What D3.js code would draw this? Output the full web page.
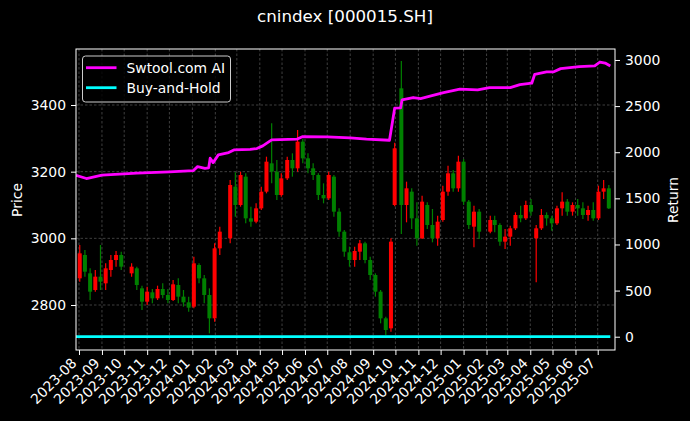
<!DOCTYPE html>
<html><head><meta charset="utf-8">
<script src="https://cdn.jsdelivr.net/npm/d3@7"></script>
<style>body{margin:0;background:#000}</style>
</head><body>
<svg id="c" width="690" height="421"></svg>
<script>
// ---------- data ----------
const candleDates = ["2023-08-02","2023-08-09","2023-08-16","2023-08-23","2023-08-30","2023-09-06","2023-09-13","2023-09-20","2023-09-27","2023-10-11","2023-10-18","2023-10-25","2023-11-01","2023-11-08","2023-11-15","2023-11-22","2023-11-29","2023-12-06","2023-12-13","2023-12-20","2023-12-27","2024-01-03","2024-01-10","2024-01-17","2024-01-24","2024-01-31","2024-02-07","2024-02-21","2024-02-28","2024-03-06","2024-03-13","2024-03-20","2024-03-27","2024-04-03","2024-04-10","2024-04-17","2024-04-24","2024-04-30","2024-05-08","2024-05-15","2024-05-22","2024-05-29","2024-06-05","2024-06-12","2024-06-19","2024-06-26","2024-07-03","2024-07-10","2024-07-17","2024-07-24","2024-07-31","2024-08-07","2024-08-14","2024-08-21","2024-08-28","2024-09-04","2024-09-11","2024-09-18","2024-09-25","2024-09-30","2024-10-09","2024-10-16","2024-10-23","2024-10-30","2024-11-06","2024-11-13","2024-11-20","2024-11-27","2024-12-04","2024-12-11","2024-12-18","2024-12-25","2025-01-01","2025-01-08","2025-01-15","2025-01-22","2025-02-06","2025-02-12","2025-02-19","2025-02-26","2025-03-05","2025-03-12","2025-03-19","2025-03-26","2025-04-02","2025-04-09","2025-04-16","2025-04-23","2025-04-30","2025-05-07","2025-05-14","2025-05-21","2025-05-28","2025-06-04","2025-06-11","2025-06-18","2025-06-25","2025-07-02","2025-07-09","2025-07-16"];
const openP  = [2880,2950,2895,2845,2885,2865,2905,2935,2950,2895,2910,2850,2810,2838,2820,2848,2830,2815,2860,2825,2808,2795,2920,2880,2830,2760,2970,3000,3155,3100,3185,3060,3050,3090,3140,3225,3200,3130,3180,3235,3210,3290,3240,3210,3190,3130,3120,3185,3080,3020,2958,2935,2960,2985,2935,2890,2840,2760,2730,3100,3450,3100,3140,3060,3000,3100,3040,3000,3055,3140,3195,3150,3230,3110,3035,3080,3020,3055,3040,2990,3005,3030,3070,3060,3100,3000,3030,3070,3060,3045,3090,3110,3080,3100,3090,3070,3085,3060,3140,3150];
const highP  = [2980,2965,2910,2905,2980,2925,2950,2962,2960,2925,2915,2858,2855,2848,2858,2865,2848,2875,2880,2845,2825,2945,2925,2890,2850,2985,3035,3175,3198,3200,3195,3095,3105,3155,3245,3345,3235,3195,3245,3255,3325,3298,3255,3225,3195,3165,3200,3190,3090,3025,2975,2975,2995,2990,2945,2895,2845,2765,3000,3287,3532,3170,3150,3108,3128,3108,3088,3068,3158,3218,3205,3248,3238,3115,3098,3088,3068,3068,3045,3028,3038,3078,3098,3113,3118,3040,3088,3078,3068,3098,3138,3118,3108,3118,3108,3098,3108,3158,3175,3160];
const lowP   = [2870,2885,2815,2840,2845,2845,2885,2915,2905,2885,2845,2785,2800,2805,2815,2820,2805,2812,2805,2795,2780,2790,2865,2805,2715,2750,2950,2985,3065,3095,3045,3035,3045,3085,3135,3165,3115,3125,3175,3185,3200,3225,3195,3175,3115,3105,3115,3065,3005,2945,2915,2915,2935,2925,2875,2825,2745,2710,2720,3096,3013,3048,3028,2978,2998,3028,2988,2978,3050,3128,3140,3140,3100,3028,2973,2998,3015,3018,2978,2968,2978,3025,3048,3055,3068,2868,3025,3038,3023,3040,3068,3068,3068,3068,3058,3053,3053,3055,3118,3088];
const closeP = [2955,2900,2840,2885,2870,2910,2935,2950,2915,2915,2860,2810,2840,2820,2848,2830,2815,2862,2825,2808,2792,2925,2880,2830,2760,2970,3020,3160,3100,3190,3060,3050,3090,3140,3230,3200,3130,3180,3235,3210,3290,3240,3210,3190,3130,3120,3190,3080,3020,2960,2935,2962,2985,2935,2890,2840,2760,2725,2990,3270,3100,3150,3060,3000,3110,3040,3000,3050,3140,3195,3150,3230,3110,3040,3080,3020,3055,3040,2990,3005,3030,3070,3060,3100,3080,3030,3070,3060,3045,3090,3110,3080,3100,3090,3070,3085,3060,3140,3150,3090];

const strategyDates = ["2023-07-28","2023-08-11","2023-09-01","2023-10-18","2023-12-01","2024-01-02","2024-01-08","2024-01-18","2024-01-23","2024-01-25","2024-01-29","2024-02-05","2024-02-19","2024-02-26","2024-03-19","2024-03-28","2024-04-05","2024-04-17","2024-05-21","2024-05-29","2024-07-01","2024-08-01","2024-08-23","2024-09-23","2024-09-30","2024-10-08","2024-10-10","2024-10-25","2024-11-04","2024-11-18","2024-12-05","2024-12-27","2025-01-20","2025-02-05","2025-03-05","2025-03-18","2025-04-03","2025-04-07","2025-04-23","2025-05-02","2025-05-12","2025-06-06","2025-06-27","2025-07-04","2025-07-11","2025-07-18"];
const strategyValues = [1750,1715,1751,1773,1787,1800,1844,1826,1830,1935,1887,1971,1996,2025,2030,2040,2069,2134,2141,2170,2167,2155,2141,2130,2478,2480,2568,2593,2582,2610,2647,2683,2675,2701,2701,2733,2748,2845,2870,2870,2906,2928,2935,2978,2967,2935];

const buyHoldDates = ["2023-07-28","2025-07-18"];
const buyHoldValues = [0,0];

const priceTicks = [2800,3000,3200,3400];
const returnTicks = [0,500,1000,1500,2000,2500,3000];
const monthTicks = ["2023-08","2023-09","2023-10","2023-11","2023-12","2024-01","2024-02","2024-03","2024-04","2024-05","2024-06","2024-07","2024-08","2024-09","2024-10","2024-11","2024-12","2025-01","2025-02","2025-03","2025-04","2025-05","2025-06","2025-07"];

const titleText = "cnindex [000015.SH]";
const seriesNames = ["Swtool.com AI","Buy-and-Hold"];

// ---------- layout ----------
const L = 76, R = 615, T = 49, B = 350;
const FONT = "DejaVu Sans";
const FS = "13.9px";
const parseDay = d3.utcParse("%Y-%m-%d");
const parseMonth = d3.utcParse("%Y-%m");

const x = d3.scaleUtc()
  .domain([new Date(Date.UTC(2023,6,27,23)), new Date(Date.UTC(2025,6,24,8))])
  .range([L, R]);
const yP = d3.scaleLinear().domain([2665, 3568]).range([B, T]);
const yR = d3.scaleLinear().domain([-144, 3119]).range([B, T]);

const svg = d3.select("#c");
svg.append("rect").attr("width",690).attr("height",421).attr("fill","#000");

// grid
const grid = svg.append("g").attr("stroke","#5a5a5a").attr("stroke-width",0.7).attr("stroke-dasharray","2.5,2");
monthTicks.forEach(m => {
  const xx = x(parseMonth(m));
  grid.append("line").attr("x1",xx).attr("x2",xx).attr("y1",T).attr("y2",B);
});
priceTicks.forEach(p => {
  grid.append("line").attr("x1",L).attr("x2",R).attr("y1",yP(p)).attr("y2",yP(p));
});

// candles
svg.append("clipPath").attr("id","pc").append("rect").attr("x",L).attr("y",T).attr("width",R-L).attr("height",B-T);
const cg = svg.append("g").attr("clip-path","url(#pc)");
const candles = candleDates.map((d,i)=>({d:parseDay(d),o:openP[i],h:highP[i],l:lowP[i],c:closeP[i]}));
const bw = 4.0;
candles.forEach(c => {
  const col = c.c >= c.o ? "#ff0000" : "#008000";
  const cx = x(c.d);
  cg.append("line").attr("x1",cx).attr("x2",cx).attr("y1",yP(c.h)).attr("y2",yP(c.l)).attr("stroke",col).attr("stroke-width",1.2);
  const top = yP(Math.max(c.o,c.c)), bot = yP(Math.min(c.o,c.c));
  cg.append("rect").attr("x",cx-bw/2).attr("y",top).attr("width",bw).attr("height",Math.max(1,bot-top)).attr("fill",col);
});

// return lines
const line = d3.line().x(d=>x(d.d)).y(d=>yR(d.v));
const strat = strategyDates.map((d,i)=>({d:parseDay(d),v:strategyValues[i]}));
const bh = buyHoldDates.map((d,i)=>({d:parseDay(d),v:buyHoldValues[i]}));
cg.append("path").datum(strat).attr("d",line).attr("fill","none").attr("stroke","#ff00ff").attr("stroke-width",2.8).attr("stroke-linejoin","round");
cg.append("path").datum(bh).attr("d",line).attr("fill","none").attr("stroke","#00ffff").attr("stroke-width",2.8);

// frame
svg.append("rect").attr("x",L).attr("y",T).attr("width",R-L).attr("height",B-T).attr("fill","none").attr("stroke","#fff").attr("stroke-width",1);

// axes
function styleAxis(g){
  g.select(".domain").remove();
  g.selectAll(".tick line").attr("stroke","#fff").attr("stroke-width",1);
  g.selectAll(".tick text").attr("fill","#fff").attr("font-family",FONT).attr("font-size",FS);
}
svg.append("g").attr("transform",`translate(${L},0)`)
  .call(d3.axisLeft(yP).tickValues(priceTicks).tickFormat(d3.format("d")).tickSize(5).tickPadding(5))
  .call(styleAxis);
svg.append("g").attr("transform",`translate(${R},0)`)
  .call(d3.axisRight(yR).tickValues(returnTicks).tickFormat(d3.format("d")).tickSize(5).tickPadding(5))
  .call(styleAxis);
const xa = svg.append("g").attr("transform",`translate(0,${B})`)
  .call(d3.axisBottom(x).tickValues(monthTicks.map(m=>parseMonth(m))).tickFormat(d3.utcFormat("%Y-%m")).tickSize(5));
xa.select(".domain").remove();
xa.selectAll(".tick line").attr("stroke","#fff");
xa.selectAll(".tick text")
  .attr("fill","#fff").attr("font-family",FONT).attr("font-size",FS)
  .attr("text-anchor","end").attr("dy",null).attr("y",null)
  .attr("transform","translate(-2,14) rotate(-45)");

// axis labels
svg.append("text").attr("transform","translate(22,200) rotate(-90)").attr("text-anchor","middle")
  .attr("fill","#fff").attr("font-family",FONT).attr("font-size",FS).text("Price");
svg.append("text").attr("transform","translate(678,200) rotate(-90)").attr("text-anchor","middle")
  .attr("fill","#fff").attr("font-family",FONT).attr("font-size",FS).text("Return");

// title
svg.append("text").attr("x",345).attr("y",22).attr("text-anchor","middle")
  .attr("fill","#fff").attr("font-family",FONT).attr("font-size","16.7px").text(titleText);

// legend
const lg = svg.append("g");
lg.append("rect").attr("x",82.5).attr("y",56).attr("width",148).attr("height",46).attr("rx",3)
  .attr("fill","#000").attr("fill-opacity",0.8).attr("stroke","#cccccc").attr("stroke-width",1);
const legendColors = ["#ff00ff","#00ffff"];
seriesNames.forEach((n,i)=>{
  const yy = 67.7 + i*20;
  lg.append("line").attr("x1",86).attr("x2",116.5).attr("y1",yy).attr("y2",yy).attr("stroke",legendColors[i]).attr("stroke-width",2.8);
  lg.append("text").attr("x",126.5).attr("y",yy+5).attr("fill","#fff").attr("font-family",FONT).attr("font-size",FS).text(n);
});
</script>
</body></html>
